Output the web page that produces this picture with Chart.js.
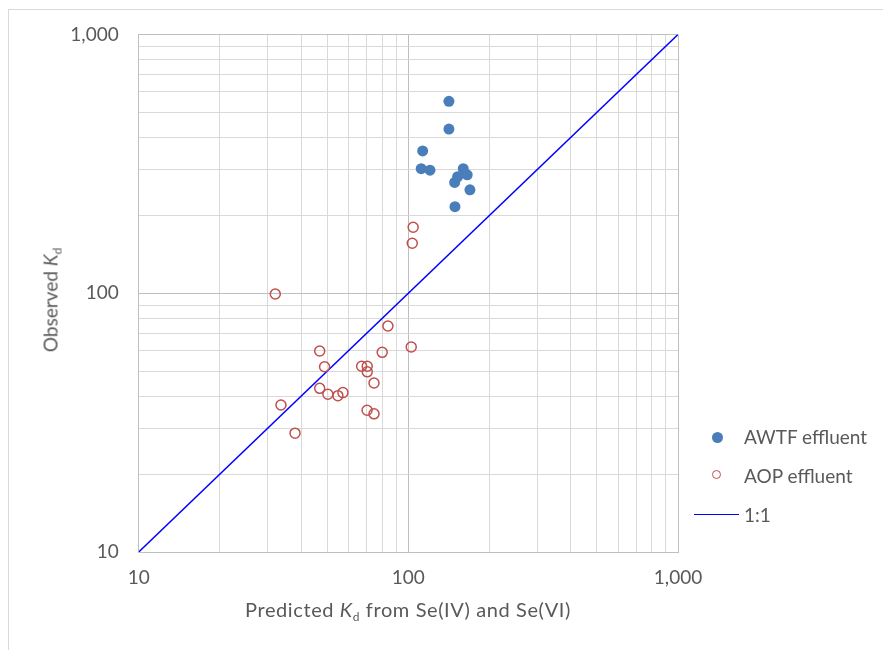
<!DOCTYPE html>
<html>
<head>
<meta charset="utf-8">
<script src="https://cdn.jsdelivr.net/npm/chart.js@4/dist/chart.umd.min.js"></script>
<style>
  html, body { margin: 0; padding: 0; background: #fff; }
  #wrap { position: relative; width: 883px; height: 650px; overflow: hidden; }
  canvas { position: absolute; left: 0; top: 0; }
  .txt { position: absolute; font-family: Lato, "Open Sans", sans-serif; font-size: 19px; color: #595959; white-space: nowrap; line-height: 1; }
  .txt sub { font-size: 12px; vertical-align: -4px; }
  #frameTop { position: absolute; left: 8px; top: 9px; width: 875px; height: 1px; background: #d9d9d9; }
  #frameLeft { position: absolute; left: 8px; top: 9px; width: 1px; height: 641px; background: #d9d9d9; }
</style>
</head>
<body>
<div id="wrap">
  <div id="frameTop"></div>
  <div id="frameLeft"></div>
  <canvas id="c" width="883" height="650"></canvas>
  <div class="txt" id="xTitle" style="left:408px; top:611px; font-size:20px; letter-spacing:0.6px; transform:translate(-50%,-50%);">Predicted <i>K</i><sub>d</sub> from Se(IV) and Se(VI)</div>
  <div class="txt" id="yTitle" style="left:52px; top:300px; transform:translate(-50%,-50%) rotate(-90deg);">Observed <i>K</i><sub>d</sub></div>
  <div style="position:absolute; left:711.5px; top:431.5px; width:11px; height:11px; border-radius:50%; background:#4a7ebb;"></div>
  <div class="txt" style="left:744px; top:436px; transform:translateY(-50%);">AWTF effluent</div>
  <div style="position:absolute; left:712px; top:470px; width:7px; height:7px; border-radius:50%; border:1.5px solid #c0504d;"></div>
  <div class="txt" style="left:744px; top:475px; transform:translateY(-50%);">AOP effluent</div>
  <div style="position:absolute; left:694px; top:513.5px; width:45px; height:1.5px; background:#0000ff;"></div>
  <div class="txt" style="left:744px; top:514px; transform:translateY(-50%);">1:1</div>
</div>
<script>
// AWTF effluent (filled blue)
const awtfX = [141.4, 141.4, 113, 111.6, 120.3, 159.8, 165.3, 152.3, 148.5, 169.2, 148.9];
const awtfY = [552, 431, 355, 303, 299, 303, 287, 282, 268, 251, 216];
// AOP effluent (open red)
const aopX = [32.1, 33.7, 38.0, 46.9, 48.9, 46.9, 50.3, 54.8, 57.2, 67.1, 70.4, 70.4, 74.6, 70.3, 74.6, 80.0, 84.0, 102.5, 104.2, 103.4];
const aopY = [99.3, 37.0, 28.8, 59.8, 52.0, 42.9, 40.7, 40.2, 41.3, 52.2, 52.2, 49.7, 45.0, 35.3, 34.2, 59.1, 74.7, 62.0, 180, 156];
// 1:1 line
const oneX = [10, 1000];
const oneY = [10, 1000];
// Axis ticks
const tickValues = [10,20,30,40,50,60,70,80,90,100,200,300,400,500,600,700,800,900,1000];
const majorTicks = [10, 100, 1000];
const majorLabels = ["10", "100", "1,000"];

const toPts = (xs, ys) => xs.map((x, i) => ({ x: x, y: ys[i] }));

const gridColor = (ctx) => (ctx.tick && majorTicks.includes(ctx.tick.value)) ? '#bfbfbf' : '#d9d9d9';
const labelCb = (v) => { const i = majorTicks.indexOf(v); return i >= 0 ? majorLabels[i] : ''; };
const setTicks = (scale) => { scale.ticks = tickValues.map(v => ({ value: v, major: majorTicks.includes(v) })); };

new Chart(document.getElementById('c'), {
  type: 'scatter',
  data: {
    datasets: [
      { label: 'AWTF effluent', data: toPts(awtfX, awtfY), backgroundColor: '#4a7ebb', borderColor: '#4a7ebb', pointRadius: 5.5, pointBorderWidth: 0, order: 1 },
      { label: 'AOP effluent', data: toPts(aopX, aopY), backgroundColor: 'rgba(0,0,0,0)', borderColor: '#c0504d', pointRadius: 5, pointBorderWidth: 1.5, order: 2 },
      { label: '1:1', data: toPts(oneX, oneY), showLine: true, borderColor: '#0000ff', borderWidth: 1.5, pointRadius: 0, fill: false, order: 3 }
    ]
  },
  options: {
    responsive: false,
    animation: false,
    events: [],
    layout: { padding: { left: 0, top: 34.5, right: 205, bottom: 0 } },
    plugins: { legend: { display: false }, tooltip: { enabled: false } },
    scales: {
      x: {
        type: 'logarithmic', min: 10, max: 1000,
        afterBuildTicks: setTicks,
        afterFit: (s) => { s.height = 98; },
        grid: { color: gridColor, drawTicks: false, lineWidth: 1 },
        border: { display: true, color: '#bfbfbf', width: 1 },
        ticks: { callback: labelCb, autoSkip: false, maxRotation: 0, padding: 14, color: '#595959', font: { family: 'Lato', size: 19 } }
      },
      y: {
        type: 'logarithmic', min: 10, max: 1000,
        afterBuildTicks: setTicks,
        afterFit: (s) => { s.width = 138.7; },
        grid: { color: gridColor, drawTicks: false, lineWidth: 1 },
        border: { display: true, color: '#bfbfbf', width: 1 },
        ticks: { callback: labelCb, autoSkip: false, padding: 20, color: '#595959', font: { family: 'Lato', size: 19 } }
      }
    }
  }
});
</script>
</body>
</html>
